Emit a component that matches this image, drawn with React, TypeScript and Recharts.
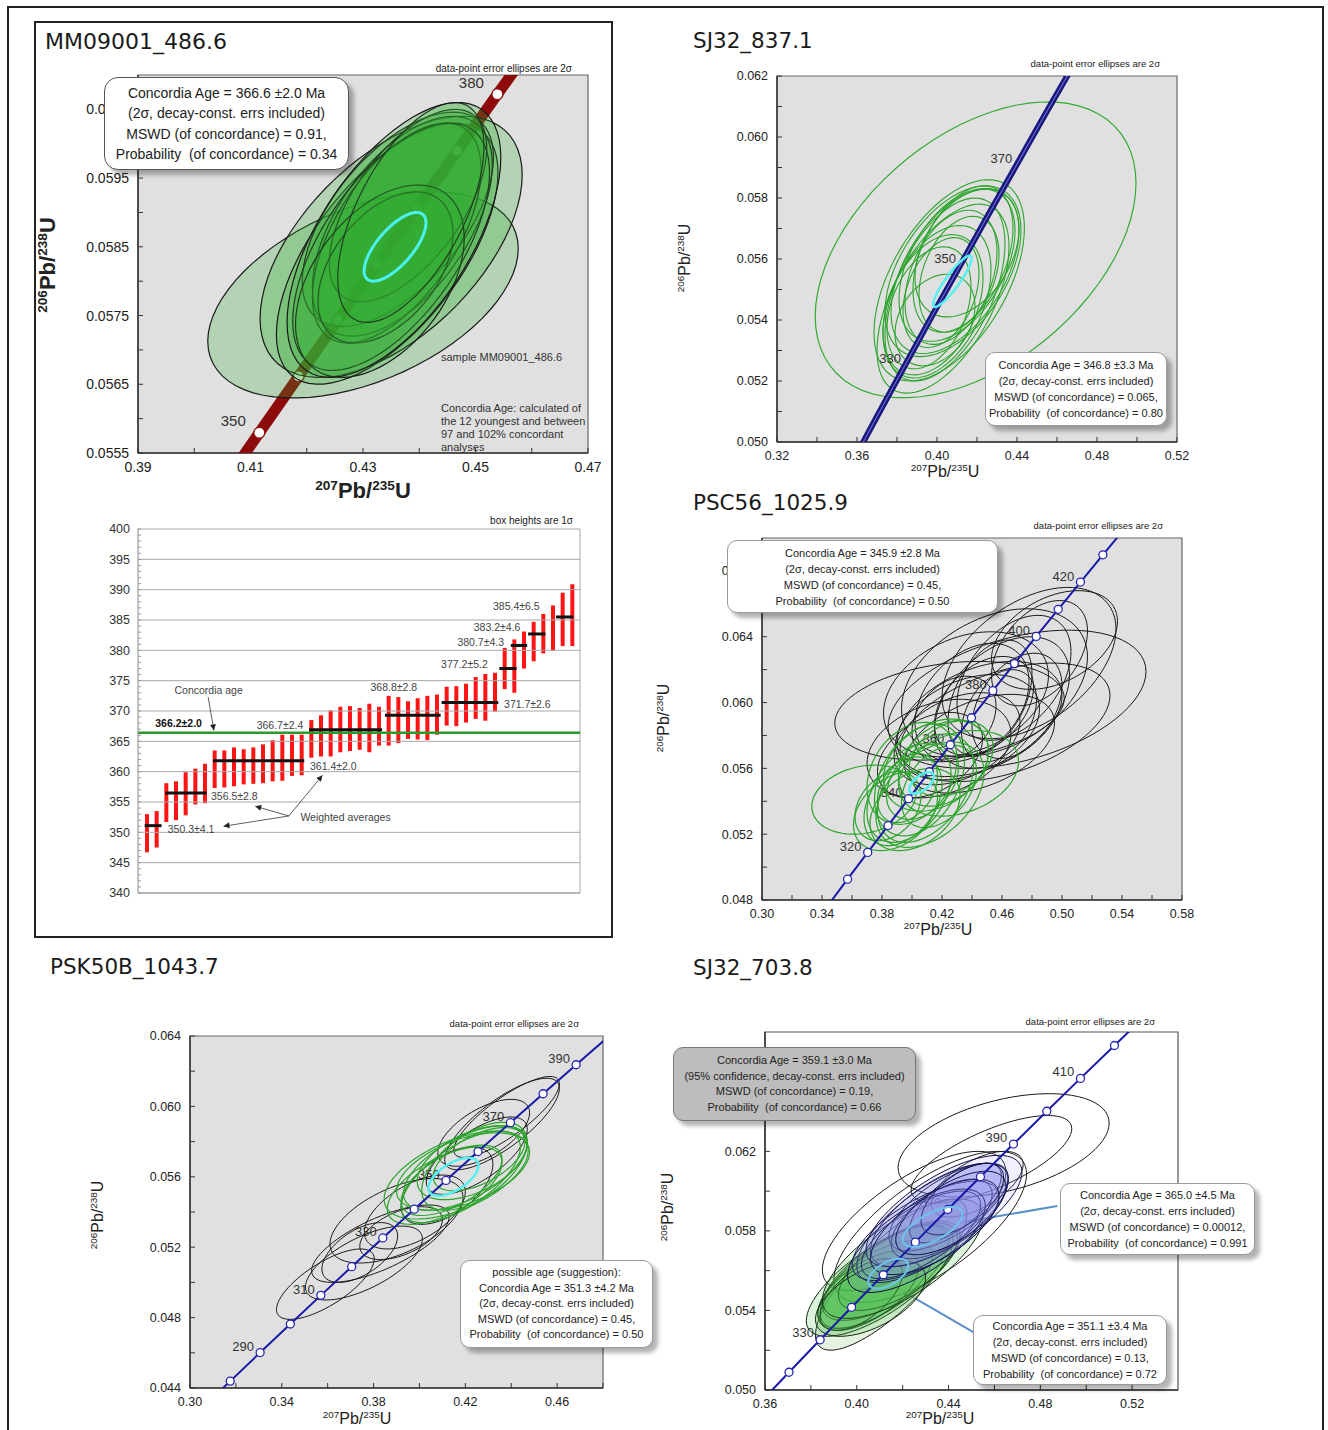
import React from 'react';
import { ScatterChart, ComposedChart, Scatter, Bar, XAxis, YAxis, ReferenceLine, ReferenceArea, CartesianGrid } from 'recharts';

const FONT = '"Liberation Sans", Arial, sans-serif';
const TITLE_FONT = '"DejaVu Sans", Verdana, sans-serif';

// U-Pb decay constants (per Ma) used to place the concordia curve
const LAMBDA_238 = 1.55125e-4;
const LAMBDA_235 = 9.8485e-4;

type Ell = [number, number, number, number, number]; // cx, cy, half-width x, half-height y, rho

// ---------------- Panel 1: MM09001_486.6 ----------------
const p1XMajor = [0.39, 0.41, 0.43, 0.45, 0.47];
const p1XMinor = [0.4, 0.42, 0.44, 0.46];
const p1YMajor = [0.0555, 0.0565, 0.0575, 0.0585, 0.0595, 0.0605];
const p1YMinor = [0.056, 0.057, 0.058, 0.059, 0.06];
const p1CurveAges = [340, 350, 360, 370, 380, 390];
const p1MarkerAges = [350, 355, 360, 365, 370, 375, 380];
const p1LabelAges = [350, 380];
const p1Ellipses: Ell[] = [
  [0.43, 0.0578, 0.0276, 0.0015, 0.45],
  [0.435, 0.0585, 0.0233, 0.0019, 0.55],
  [0.4343, 0.0584, 0.0197, 0.0019, 0.62],
  [0.4362, 0.0589, 0.017, 0.00156, 0.58],
  [0.437, 0.0588, 0.016, 0.0016, 0.56],
  [0.436, 0.0587, 0.015, 0.0016, 0.58],
  [0.438, 0.0591, 0.014, 0.0014, 0.6],
  [0.435, 0.0585, 0.0175, 0.0018, 0.6],
  [0.434, 0.0582, 0.012, 0.0011, 0.45],
  [0.433, 0.058, 0.015, 0.0014, 0.45],
  [0.4385, 0.059, 0.013, 0.0016, 0.6],
  [0.4355, 0.0586, 0.019, 0.002, 0.6],
];
const p1AgeEllipse: Ell = [0.4357, 0.0585, 0.0055, 0.0005, 0.7];

// ---------------- Panel 2: weighted averages ----------------
const barLow = [346.7, 347.5, 351.7, 352.0, 352.8, 354.6, 354.8, 357.3, 357.4, 357.6, 357.9, 358.0, 358.1, 358.4, 358.5, 359.3, 359.4, 362.3, 362.5, 362.5, 363.2, 363.4, 363.6, 363.2, 364.3, 364.3, 364.7, 365.4, 365.3, 365.2, 366.1, 367.6, 367.5, 368.1, 368.7, 368.4, 369.9, 373.6, 373.0, 377.0, 378.2, 379.5, 380.0, 380.7, 380.7];
const barHigh = [353.0, 353.5, 358.1, 358.4, 359.9, 360.5, 361.3, 363.5, 363.5, 364.0, 363.7, 364.0, 364.5, 365.2, 366.1, 366.1, 366.1, 368.5, 369.3, 370.1, 370.7, 370.8, 370.5, 371.2, 370.7, 372.5, 372.3, 371.6, 372.1, 372.5, 372.7, 374.0, 374.1, 374.5, 375.6, 376.1, 376.3, 380.4, 381.8, 383.1, 384.7, 386.0, 387.4, 389.5, 390.9];
const wavgStart = [0.69, 2.84, 7.8, 17.8, 25.7, 31.6, 37.6, 38.8, 40.6, 43.5];
const wavgEnd = [2.45, 7.13, 17.3, 25.4, 31.5, 37.5, 39.4, 40.5, 42.4, 45.3];
const wavgValue = [351.1, 356.5, 361.8, 366.9, 369.3, 371.4, 377.0, 380.8, 382.7, 385.5];
const concordiaAgeLine = 366.4;
const barYTicksMajor = [340, 345, 350, 355, 360, 365, 370, 375, 380, 385, 390, 395, 400];
const barYTicksAll = [340, 341, 342, 343, 344, 345, 346, 347, 348, 349, 350, 351, 352, 353, 354, 355, 356, 357, 358, 359, 360, 361, 362, 363, 364, 365, 366, 367, 368, 369, 370, 371, 372, 373, 374, 375, 376, 377, 378, 379, 380, 381, 382, 383, 384, 385, 386, 387, 388, 389, 390, 391, 392, 393, 394, 395, 396, 397, 398, 399, 400];
const barLabelText = ['350.3±4.1', '356.5±2.8', '361.4±2.0', '366.7±2.4', '368.8±2.8', '371.7±2.6', '377.2±5.2', '380.7±4.3', '383.2±4.6', '385.4±6.5', '366.2±2.0', 'Concordia age', 'Weighted averages'];
const barLabelX = [3.1, 7.6, 17.9, 17.2, 24.2, 38.1, 36.4, 38.1, 39.8, 41.8, 1.8, 3.8, 16.9];
const barLabelY = [350.6, 356.0, 361.0, 367.7, 373.9, 371.2, 377.7, 381.3, 383.9, 387.3, 368.1, 373.4, 352.6];
const barLabelAnchor = ['start', 'start', 'start', 'end', 'start', 'start', 'end', 'end', 'end', 'end', 'start', 'start', 'start'];
const barLabelBold = [false, false, false, false, false, false, false, false, false, false, true, false, false];
const arrowFromX = [7.3, 15.7, 15.7, 15.7];
const arrowFromY = [372.3, 352.7, 352.7, 352.7];
const arrowToX = [7.9, 12.2, 8.9, 19.2];
const arrowToY = [366.8, 354.3, 351.0, 359.4];

// ---------------- Panel 3: SJ32_837.1 ----------------
const p3XMajor = [0.32, 0.36, 0.4, 0.44, 0.48, 0.52];
const p3XMinor = [0.34, 0.38, 0.42, 0.46, 0.5];
const p3YMajor = [0.05, 0.052, 0.054, 0.056, 0.058, 0.06, 0.062];
const p3YMinor = [0.051, 0.053, 0.055, 0.057, 0.059, 0.061];
const p3CurveAges = [300, 320, 340, 360, 380, 400];
const p3LabelAges = [330, 350, 370];
const p3BigEllipse: Ell = [0.4193, 0.0563, 0.0802, 0.00485, 0.45];
const p3Ellipses: Ell[] = [
  [0.4061, 0.0553, 0.0376, 0.0033, 0.52],
  [0.408, 0.0556, 0.034, 0.0028, 0.48],
  [0.404, 0.055, 0.03, 0.003, 0.5],
  [0.41, 0.0558, 0.029, 0.0025, 0.45],
  [0.4, 0.0546, 0.027, 0.0025, 0.42],
  [0.407, 0.0554, 0.023, 0.0022, 0.38],
  [0.398, 0.0545, 0.025, 0.0023, 0.38],
  [0.413, 0.056, 0.025, 0.0024, 0.42],
  [0.402, 0.0549, 0.019, 0.0018, 0.35],
  [0.409, 0.0556, 0.032, 0.0027, 0.5],
  [0.403, 0.0547, 0.033, 0.0031, 0.55],
  [0.415, 0.0562, 0.026, 0.0021, 0.38],
  [0.396, 0.0544, 0.021, 0.002, 0.35],
  [0.411, 0.0555, 0.02, 0.0019, 0.35],
  [0.399, 0.054, 0.02, 0.0015, 0.3],
];
const p3AgeEllipse: Ell = [0.4077, 0.05527, 0.0096, 0.00084, 0.9];

// ---------------- Panel 4: PSC56_1025.9 ----------------
const p4XMajor = [0.3, 0.34, 0.38, 0.42, 0.46, 0.5, 0.54, 0.58];
const p4XMinor = [0.32, 0.36, 0.4, 0.44, 0.48, 0.52, 0.56];
const p4YMajor = [0.048, 0.052, 0.056, 0.06, 0.064, 0.068];
const p4YMinor = [0.05, 0.054, 0.058, 0.062, 0.066];
const p4CurveAges = [300, 310, 320, 330, 340, 350, 360, 370, 380, 390, 400, 410, 420, 430, 440];
const p4MarkerAges = [310, 320, 330, 340, 350, 360, 370, 380, 390, 400, 410, 420, 430];
const p4LabelAges = [320, 340, 360, 380, 400, 420];
const p4Black: Ell[] = [
  [0.425, 0.0595, 0.0765, 0.003, 0.25],
  [0.47, 0.0602, 0.086, 0.0042, 0.4],
  [0.478, 0.0624, 0.058, 0.0046, 0.45],
  [0.455, 0.0612, 0.062, 0.0045, 0.35],
  [0.445, 0.059, 0.055, 0.0035, 0.4],
  [0.46, 0.06, 0.045, 0.004, 0.42],
  [0.437, 0.0585, 0.048, 0.0032, 0.35],
  [0.468, 0.0615, 0.038, 0.0038, 0.42],
  [0.448, 0.0598, 0.033, 0.003, 0.38],
  [0.43, 0.0578, 0.042, 0.0028, 0.38],
  [0.452, 0.0603, 0.028, 0.0035, 0.42],
  [0.418, 0.0572, 0.048, 0.003, 0.3],
  [0.458, 0.0592, 0.025, 0.0028, 0.35],
  [0.44, 0.06, 0.038, 0.0036, 0.35],
  [0.485, 0.063, 0.032, 0.0032, 0.42],
  [0.412, 0.0568, 0.035, 0.0026, 0.38],
  [0.445, 0.0575, 0.05, 0.003, 0.42],
  [0.495, 0.0638, 0.042, 0.003, 0.38],
  [0.462, 0.0588, 0.07, 0.0036, 0.45],
  [0.428, 0.059, 0.028, 0.0026, 0.3],
  [0.47, 0.0598, 0.03, 0.0032, 0.38],
  [0.436, 0.0605, 0.055, 0.0038, 0.3],
];
const p4Green: Ell[] = [
  [0.368, 0.0541, 0.0348, 0.0021, 0.2],
  [0.431, 0.0557, 0.04, 0.0026, 0.28],
  [0.405, 0.0553, 0.03, 0.0034, 0.35],
  [0.398, 0.0545, 0.028, 0.003, 0.38],
  [0.416, 0.0562, 0.035, 0.0028, 0.3],
  [0.394, 0.054, 0.026, 0.0027, 0.38],
  [0.409, 0.0548, 0.032, 0.0033, 0.42],
  [0.421, 0.0563, 0.03, 0.0026, 0.3],
  [0.389, 0.0534, 0.028, 0.0024, 0.35],
  [0.407, 0.0552, 0.024, 0.0023, 0.38],
  [0.4, 0.0557, 0.03, 0.0031, 0.28],
  [0.418, 0.0549, 0.025, 0.0025, 0.38],
  [0.384, 0.0537, 0.022, 0.0021, 0.3],
  [0.412, 0.0544, 0.036, 0.0032, 0.42],
  [0.397, 0.0548, 0.02, 0.0021, 0.35],
  [0.426, 0.0566, 0.028, 0.0023, 0.3],
  [0.402, 0.0535, 0.03, 0.0025, 0.35],
];
const p4AgeEllipse: Ell = [0.4064, 0.05512, 0.0082, 0.00065, 0.6];

// ---------------- Panel 5: PSK50B_1043.7 ----------------
const p5XMajor = [0.3, 0.34, 0.38, 0.42, 0.46];
const p5XMinor = [0.32, 0.36, 0.4, 0.44, 0.48];
const p5YMajor = [0.044, 0.048, 0.052, 0.056, 0.06, 0.064];
const p5YMinor = [0.046, 0.05, 0.054, 0.058, 0.062];
const p5CurveAges = [270, 280, 290, 300, 310, 320, 330, 340, 350, 360, 370, 380, 390, 400];
const p5MarkerAges = [280, 290, 300, 310, 320, 330, 340, 350, 360, 370, 380, 390];
const p5LabelAges = [290, 310, 330, 350, 370, 390];
const p5Black: Ell[] = [
  [0.359, 0.0499, 0.0213, 0.002, 0.72],
  [0.3758, 0.0511, 0.0255, 0.0021, 0.65],
  [0.374, 0.0517, 0.0165, 0.0017, 0.55],
  [0.383, 0.0522, 0.03, 0.0022, 0.7],
  [0.39, 0.0535, 0.029, 0.0024, 0.55],
  [0.392, 0.0528, 0.018, 0.0015, 0.5],
  [0.398, 0.054, 0.022, 0.0021, 0.55],
  [0.412, 0.0555, 0.02, 0.0022, 0.55],
  [0.438, 0.0594, 0.023, 0.0023, 0.82],
  [0.436, 0.059, 0.025, 0.0026, 0.78],
  [0.428, 0.0585, 0.02, 0.0019, 0.6],
  [0.425, 0.0572, 0.022, 0.0022, 0.68],
];
const p5Green: Ell[] = [
  [0.416, 0.0561, 0.0314, 0.0025, 0.55],
  [0.42, 0.0565, 0.027, 0.0024, 0.6],
  [0.414, 0.0558, 0.022, 0.002, 0.6],
  [0.423, 0.0568, 0.024, 0.0021, 0.5],
  [0.418, 0.056, 0.026, 0.0026, 0.65],
  [0.426, 0.057, 0.02, 0.0018, 0.55],
  [0.411, 0.0555, 0.025, 0.0022, 0.6],
  [0.424, 0.0566, 0.023, 0.0025, 0.55],
  [0.419, 0.0563, 0.029, 0.0022, 0.5],
];
const p5AgeEllipse: Ell = [0.4148, 0.056, 0.0109, 0.00108, 0.6];

// ---------------- Panel 6: SJ32_703.8 ----------------
const p6XMajor = [0.36, 0.4, 0.44, 0.48, 0.52];
const p6XMinor = [0.38, 0.42, 0.46, 0.5];
const p6YMajor = [0.05, 0.054, 0.058, 0.062];
const p6YMinor = [0.052, 0.056, 0.06, 0.064, 0.066];
const p6CurveAges = [310, 320, 330, 340, 350, 360, 370, 380, 390, 400, 410, 420, 430, 440];
const p6MarkerAges = [320, 330, 340, 350, 360, 370, 380, 390, 400, 410, 420];
const p6LabelAges = [330, 350, 370, 390, 410];
const p6Outline: Ell[] = [
  [0.464, 0.0623, 0.046, 0.0026, 0.43],
  [0.4587, 0.0616, 0.035, 0.0022, 0.7],
  [0.4525, 0.06035, 0.02, 0.00165, 0.6],
  [0.425, 0.0585, 0.04, 0.0035, 0.7],
  [0.432, 0.0582, 0.042, 0.0038, 0.7],
];
const p6Pale: Ell[] = [[0.415, 0.0558, 0.033, 0.0038, 0.8]];
const p6Green: Ell[] = [
  [0.412, 0.0557, 0.028, 0.0026, 0.7],
  [0.408, 0.0553, 0.025, 0.0022, 0.65],
  [0.415, 0.056, 0.03, 0.0025, 0.7],
  [0.405, 0.055, 0.022, 0.002, 0.6],
  [0.41, 0.0555, 0.032, 0.0028, 0.72],
  [0.418, 0.0562, 0.026, 0.0022, 0.65],
  [0.402, 0.0548, 0.018, 0.0018, 0.6],
  [0.42, 0.0566, 0.035, 0.003, 0.7],
  [0.406, 0.0546, 0.024, 0.0019, 0.55],
];
const p6Blue: Ell[] = [
  [0.433, 0.0584, 0.033, 0.003, 0.72],
  [0.436, 0.0588, 0.03, 0.0026, 0.68],
  [0.44, 0.0592, 0.026, 0.0022, 0.68],
  [0.43, 0.058, 0.032, 0.0025, 0.68],
  [0.437, 0.0586, 0.022, 0.002, 0.62],
  [0.443, 0.0594, 0.02, 0.002, 0.68],
  [0.428, 0.0578, 0.026, 0.0022, 0.68],
  [0.438, 0.059, 0.034, 0.0028, 0.7],
  [0.426, 0.0575, 0.03, 0.0026, 0.68],
  [0.446, 0.0596, 0.018, 0.0018, 0.6],
  [0.434, 0.0582, 0.028, 0.0024, 0.66],
  [0.441, 0.0589, 0.024, 0.0021, 0.64],
];
const p6AgeEllipses: Ell[] = [
  [0.433, 0.0582, 0.013, 0.001, 0.65],
  [0.4137, 0.05585, 0.0087, 0.00075, 0.55],
];
const p6ConnectorFrom = [[0.4874, 0.05925], [0.4538, 0.05271]];
const p6ConnectorTo = [[0.445, 0.05841], [0.4149, 0.05531]];

// ---------------- helpers ----------------
const ML = 80, MT = 12, MR = 30, MB = 40;

const concordiaPoint = (age: number) => ({ x: Math.expm1(LAMBDA_235 * age), y: Math.expm1(LAMBDA_238 * age), age });

function ellipsePoints(e: Ell) {
  const [cx, cy, sx, sy, r] = e;
  const q = Math.sqrt(1 - r * r);
  const pts: { x: number; y: number }[] = [];
  const n = 72;
  for (let k = 0; k <= n; k++) {
    const t = (2 * Math.PI * k) / n;
    pts.push({ x: cx + sx * Math.cos(t), y: cy + sy * (r * Math.cos(t) + q * Math.sin(t)) });
  }
  return pts;
}

const noShape = () => <g />;

function ellipseSeries(list: Ell[], key: string, stroke: string, strokeWidth: number, fill = 'none', fillOpacity = 0) {
  return list.map((e, k) => (
    <Scatter
      key={`${key}-${k}`}
      data={ellipsePoints(e)}
      shape={noShape}
      isAnimationActive={false}
      line={{ stroke, strokeWidth, fill, fillOpacity }}
    />
  ));
}

function curveSeries(ages: number[], key: string, stroke: string, width: number) {
  return (
    <Scatter key={key} data={ages.map(concordiaPoint)} shape={noShape} isAnimationActive={false}
      line={{ stroke, strokeWidth: width, fill: 'none' }} />
  );
}

function markerSeries(ages: number[], key: string, stroke: string, r: number) {
  return (
    <Scatter key={key} data={ages.map(concordiaPoint)} isAnimationActive={false}
      shape={(p: any) => <circle cx={p.cx} cy={p.cy} r={r} fill="#ffffff" stroke={stroke} strokeWidth={1.3} />} />
  );
}

function ageLabelSeries(ages: number[], key: string, dx: number, dy: number, size: number) {
  return (
    <Scatter key={key} data={ages.map(concordiaPoint)} isAnimationActive={false}
      shape={(p: any) => (
        <text x={p.cx + dx} y={p.cy + dy} textAnchor="middle" dominantBaseline="central" fontSize={size} fill="#333" fontFamily={FONT}>
          {p.payload ? p.payload.age : p.age}
        </text>
      )} />
  );
}

const isMajor = (major: number[], v: number) => major.some((m) => Math.abs(m - v) < 1e-9);
const fmt = (major: number[], dec: number) => (v: number) => (isMajor(major, v) ? v.toFixed(dec) : '');
const allTicks = (a: number[], b: number[]) => [...a, ...b].sort((x, y) => x - y);

function xAxisEl(domain: [number, number], major: number[], minor: number[], dec: number, size: number) {
  return (
    <XAxis type="number" dataKey="x" domain={domain} allowDataOverflow ticks={allTicks(major, minor)} interval={0}
      tickFormatter={fmt(major, dec)} tickSize={-5} tickMargin={14} height={MB}
      axisLine={{ stroke: '#333', strokeWidth: 1.5 }} tickLine={{ stroke: '#333' }}
      tick={{ fontSize: size, fill: '#222', fontFamily: FONT }} />
  );
}

function yAxisEl(domain: [number, number], major: number[], minor: number[], dec: number, size: number) {
  return (
    <YAxis type="number" dataKey="y" domain={domain} allowDataOverflow ticks={allTicks(major, minor)} interval={0}
      tickFormatter={fmt(major, dec)} tickSize={-5} tickMargin={14} width={ML}
      axisLine={{ stroke: '#333', strokeWidth: 1.5 }} tickLine={{ stroke: '#333' }}
      tick={{ fontSize: size, fill: '#222', fontFamily: FONT }} />
  );
}

function Txt({ x, y, children, size = 12, align = 'left', bold = false, family = FONT, color = '#222', rotate = false, lh = 1.15 }: any) {
  const tx = align === 'left' ? '0' : align === 'right' ? '-100%' : '-50%';
  return (
    <div style={{ position: 'absolute', left: x, top: y, transform: `translate(${tx}, -50%)${rotate ? ' rotate(-90deg)' : ''}`,
      fontFamily: family, fontSize: size, fontWeight: bold ? 'bold' : 'normal', color, whiteSpace: 'pre', lineHeight: lh }}>
      {children}
    </div>
  );
}

const Sup = ({ children }: any) => (
  <span style={{ fontSize: '0.62em', position: 'relative', top: '-0.6em' }}>{children}</span>
);

function InfoBox({ x, y, w, h, lines, size, lh, bg = '#ffffff', border = '#9a9a9a', radius = 10 }: any) {
  return (
    <div style={{ position: 'absolute', left: x, top: y, width: w, height: h, boxSizing: 'border-box', background: bg,
      border: `1px solid ${border}`, borderRadius: radius, boxShadow: '5px 5px 4px rgba(0,0,0,0.3)', display: 'flex',
      flexDirection: 'column', justifyContent: 'center', alignItems: 'center', fontFamily: FONT, fontSize: size,
      lineHeight: `${lh}px`, color: '#222', whiteSpace: 'pre' }}>
      {lines.map((s: string, k: number) => <div key={k}>{s}</div>)}
    </div>
  );
}

function chartBox(rect: number[]) {
  const [l, t, r, b] = rect;
  return {
    style: { position: 'absolute' as const, left: l - ML, top: t - MT },
    width: r - l + ML + MR,
    height: b - t + MT + MB,
    margin: { top: MT, right: MR, left: 0, bottom: 0 },
  };
}

const PLOT_BG = '#e0e0e0';

// ---------------- panels ----------------
const P1 = [138, 75, 588, 453];
const P2 = [138, 529, 580, 893];
const P3 = [777, 76, 1177, 442];
const P4 = [762, 538, 1182, 900];
const P5 = [190, 1036, 603, 1388];
const P6 = [765, 1032, 1178, 1390];

function Panel1() {
  const c = chartBox(P1);
  const xd: [number, number] = [0.39, 0.47];
  const yd: [number, number] = [0.0555, 0.061];
  return (
    <div style={c.style}>
      <ScatterChart width={c.width} height={c.height} margin={c.margin}>
        <CartesianGrid fill={PLOT_BG} horizontal={false} vertical={false} stroke="none" />
        {xAxisEl(xd, p1XMajor, p1XMinor, 2, 14)}
        {yAxisEl(yd, p1YMajor, p1YMinor, 4, 14)}
        {curveSeries(p1CurveAges, 'c1', '#8e0b0b', 11)}
        {markerSeries(p1MarkerAges, 'm1', '#8e0b0b', 5.5)}
        {ellipseSeries(p1Ellipses, 'e1', '#1a1a1a', 1.2, '#2eaa2e', 0.25)}
        {ellipseSeries([p1AgeEllipse], 'a1', '#4df0f0', 3)}
        {ageLabelSeries(p1LabelAges, 'l1', -26, -12, 15)}
        <ReferenceArea x1={xd[0]} x2={xd[1]} y1={yd[0]} y2={yd[1]} fill="none" fillOpacity={0} stroke="#666" strokeWidth={1.2} />
      </ScatterChart>
    </div>
  );
}

function Panel2() {
  const c = chartBox(P2);
  const rows = barLow.map((lo, k) => ({ i: k + 1, range: [lo, barHigh[k]] }));
  const labels = barLabelText.map((text, k) => ({ i: barLabelX[k], v: barLabelY[k], text, anchor: barLabelAnchor[k], bold: barLabelBold[k] }));
  return (
    <div style={c.style}>
      <ComposedChart width={c.width} height={c.height} margin={c.margin} data={rows}>
        <XAxis xAxisId="cat" type="category" dataKey="i" hide padding={{ left: 4, right: 3 }} />
        <XAxis type="number" dataKey="i" domain={[0, 46]} allowDataOverflow ticks={[]} tick={false} tickLine={false} height={MB} axisLine={{ stroke: '#999' }} />
        <YAxis type="number" domain={[340, 400]} allowDataOverflow ticks={barYTicksAll} interval={0} tickFormatter={fmt(barYTicksMajor, 0)}
          tickSize={-3} tickMargin={11} width={ML} axisLine={{ stroke: '#888' }} tickLine={{ stroke: '#999' }}
          tick={{ fontSize: 12.5, fill: '#333', fontFamily: FONT }} />
        {barYTicksMajor.map((v) => <ReferenceLine key={`g${v}`} y={v} stroke="#a8a8a8" strokeWidth={1} />)}
        <ReferenceLine x={46} stroke="#a8a8a8" />
        <Bar xAxisId="cat" dataKey="range" barSize={4} fill="#ff1414" isAnimationActive={false} />
        <ReferenceLine y={concordiaAgeLine} stroke="#2a9a2a" strokeWidth={2.5} />
        {wavgValue.map((v, k) => (
          <ReferenceLine key={`w${k}`} segment={[{ x: wavgStart[k], y: v }, { x: wavgEnd[k], y: v }]} stroke="#111" strokeWidth={3} />
        ))}
        {arrowFromX.map((x, k) => (
          <ReferenceLine key={`ar${k}`} segment={[{ x, y: arrowFromY[k] }, { x: arrowToX[k], y: arrowToY[k] }]} stroke="#333" strokeWidth={0.8} markerEnd="url(#arrowHead)" />
        ))}
        <Scatter data={labels} dataKey="v" isAnimationActive={false}
          shape={(p: any) => {
            const d = p.payload || p;
            return (
              <text x={p.cx} y={p.cy} textAnchor={d.anchor} dominantBaseline="central" fontSize={10.5}
                fontWeight={d.bold ? 'bold' : 'normal'} fill={d.bold ? '#111' : '#444'} fontFamily={FONT}>{d.text}</text>
            );
          }} />
      </ComposedChart>
    </div>
  );
}

function Panel3() {
  const c = chartBox(P3);
  const xd: [number, number] = [0.32, 0.52];
  const yd: [number, number] = [0.05, 0.062];
  return (
    <div style={c.style}>
      <ScatterChart width={c.width} height={c.height} margin={c.margin}>
        <CartesianGrid fill={PLOT_BG} horizontal={false} vertical={false} stroke="none" />
        {xAxisEl(xd, p3XMajor, p3XMinor, 2, 12.5)}
        {yAxisEl(yd, p3YMajor, p3YMinor, 3, 12.5)}
        {ellipseSeries([p3BigEllipse], 'b3', '#33aa33', 1.2)}
        {ellipseSeries(p3Ellipses, 'e3', '#2ca42c', 1.1)}
        {curveSeries(p3CurveAges, 'c3', '#17177e', 6)}
        {curveSeries(p3CurveAges, 'c3b', '#6a6ac8', 1.2)}
        {ellipseSeries([p3AgeEllipse], 'a3', '#55f0f0', 2.5)}
        {ageLabelSeries(p3LabelAges, 'l3', -15, -7, 13)}
        <ReferenceArea x1={xd[0]} x2={xd[1]} y1={yd[0]} y2={yd[1]} fill="none" fillOpacity={0} stroke="#666" strokeWidth={1.2} />
      </ScatterChart>
    </div>
  );
}

function Panel4() {
  const c = chartBox(P4);
  const xd: [number, number] = [0.3, 0.58];
  const yd: [number, number] = [0.048, 0.07];
  return (
    <div style={c.style}>
      <ScatterChart width={c.width} height={c.height} margin={c.margin}>
        <CartesianGrid fill={PLOT_BG} horizontal={false} vertical={false} stroke="none" />
        {xAxisEl(xd, p4XMajor, p4XMinor, 2, 12.5)}
        {yAxisEl(yd, p4YMajor, p4YMinor, 3, 12.5)}
        {ageLabelSeries(p4LabelAges, 'l4', -17, -6, 13)}
        {ellipseSeries(p4Black, 'k4', '#1a1a1a', 1)}
        {ellipseSeries(p4Green, 'g4', '#2ca42c', 1.2)}
        {curveSeries(p4CurveAges, 'c4', '#1a1aa8', 2)}
        {markerSeries(p4MarkerAges, 'm4', '#2626b0', 4)}
        {ellipseSeries([p4AgeEllipse], 'a4', '#55f0f0', 2.5)}
        <ReferenceArea x1={xd[0]} x2={xd[1]} y1={yd[0]} y2={yd[1]} fill="none" fillOpacity={0} stroke="#666" strokeWidth={1.2} />
      </ScatterChart>
    </div>
  );
}

function Panel5() {
  const c = chartBox(P5);
  const xd: [number, number] = [0.3, 0.48];
  const yd: [number, number] = [0.044, 0.064];
  return (
    <div style={c.style}>
      <ScatterChart width={c.width} height={c.height} margin={c.margin}>
        <CartesianGrid fill={PLOT_BG} horizontal={false} vertical={false} stroke="none" />
        {xAxisEl(xd, p5XMajor, p5XMinor, 2, 12.5)}
        {yAxisEl(yd, p5YMajor, p5YMinor, 3, 12.5)}
        {ageLabelSeries(p5LabelAges, 'l5', -17, -6, 13)}
        {ellipseSeries(p5Black, 'k5', '#1a1a1a', 1)}
        {ellipseSeries(p5Green, 'g5', '#2ca42c', 1.2)}
        {curveSeries(p5CurveAges, 'c5', '#1a1aa8', 2)}
        {markerSeries(p5MarkerAges, 'm5', '#2626b0', 4)}
        {ellipseSeries([p5AgeEllipse], 'a5', '#55f0f0', 2.5)}
        <ReferenceArea x1={xd[0]} x2={xd[1]} y1={yd[0]} y2={yd[1]} fill="none" fillOpacity={0} stroke="#666" strokeWidth={1.2} />
      </ScatterChart>
    </div>
  );
}

function Panel6() {
  const c = chartBox(P6);
  const xd: [number, number] = [0.36, 0.54];
  const yd: [number, number] = [0.05, 0.068];
  return (
    <div style={c.style}>
      <ScatterChart width={c.width} height={c.height} margin={c.margin}>
        <CartesianGrid fill="#ffffff" horizontal={false} vertical={false} stroke="none" />
        {xAxisEl(xd, p6XMajor, p6XMinor, 2, 12.5)}
        {yAxisEl(yd, p6YMajor, p6YMinor, 3, 12.5)}
        {ageLabelSeries(p6LabelAges, 'l6', -17, -7, 13)}
        {ellipseSeries(p6Pale, 'p6', '#1a1a1a', 1, '#d8ecd2', 0.7)}
        {ellipseSeries(p6Outline, 'o6', '#1a1a1a', 1)}
        {ellipseSeries(p6Green, 'g6', '#102810', 1, '#4cbf4c', 0.2)}
        {ellipseSeries(p6Blue, 'b6', '#10104a', 1, '#8a8af0', 0.12)}
        {curveSeries(p6CurveAges, 'c6', '#1a1aa8', 2)}
        {markerSeries(p6MarkerAges, 'm6', '#2626b0', 4)}
        {ellipseSeries(p6AgeEllipses, 'a6', '#6cc4ec', 2)}
        {p6ConnectorFrom.map((f, k) => (
          <ReferenceLine key={`cn${k}`} segment={[{ x: f[0], y: f[1] }, { x: p6ConnectorTo[k][0], y: p6ConnectorTo[k][1] }]} stroke="#5b8fc9" strokeWidth={2} />
        ))}
        <ReferenceArea x1={xd[0]} x2={xd[1]} y1={yd[0]} y2={yd[1]} fill="none" fillOpacity={0} stroke="#555" strokeWidth={1.2} />
      </ScatterChart>
    </div>
  );
}

const ellipseNote = 'data-point error ellipses are 2σ';

export default function App() {
  return (
    <div style={{ position: 'absolute', left: 0, top: 0, width: 1328, height: 1430, background: '#ffffff', overflow: 'hidden', fontFamily: FONT }}>
      <svg width={0} height={0} style={{ position: 'absolute' }}>
        <defs>
          <marker id="arrowHead" viewBox="0 0 10 10" refX={10} refY={5} markerWidth={7} markerHeight={6} markerUnits="userSpaceOnUse" orient="auto">
            <path d="M0,0 L10,5 L0,10 z" fill="#222" />
          </marker>
        </defs>
      </svg>
      {/* outer frame */}
      <div style={{ position: 'absolute', left: 7, top: 6, width: 1317, height: 1440, border: '2px solid #222', boxSizing: 'border-box' }} />
      {/* left block frame */}
      <div style={{ position: 'absolute', left: 34, top: 21, width: 579, height: 917, border: '2px solid #222', boxSizing: 'border-box' }} />

      {/* Panel 1 */}
      <Panel1 />
      <Txt x={45} y={42} size={22} family={TITLE_FONT} color="#1a1a1a">MM09001_486.6</Txt>
      <Txt x={572} y={69} size={10} align="right">{ellipseNote}</Txt>
      <Txt x={48} y={265} size={22} bold align="center" rotate><Sup>206</Sup>Pb/<Sup>238</Sup>U</Txt>
      <Txt x={363} y={491} size={22} bold align="center"><Sup>207</Sup>Pb/<Sup>235</Sup>U</Txt>
      <Txt x={441} y={357} size={11} color="#333">sample MM09001_486.6</Txt>
      <Txt x={441} y={428} size={11} color="#333" lh={1.18}>{'Concordia Age: calculated of\nthe 12 youngest and between\n97 and 102% concordant\nanalyses'}</Txt>
      <InfoBox x={104} y={77} w={245} h={93} size={14} lh={20.5} border="#555" radius={14}
        lines={['Concordia Age = 366.6 ±2.0 Ma', '(2σ, decay-const. errs included)', 'MSWD (of concordance) = 0.91,', 'Probability  (of concordance) = 0.34']} />

      {/* Panel 2 */}
      <Panel2 />
      <Txt x={573} y={521} size={10} align="right">box heights are 1σ</Txt>

      {/* Panel 3 */}
      <Panel3 />
      <Txt x={693} y={41} size={21.5} family={TITLE_FONT} color="#1a1a1a">SJ32_837.1</Txt>
      <Txt x={1160} y={64} size={9.5} align="right">{ellipseNote}</Txt>
      <Txt x={685} y={258} size={16} align="center" rotate><Sup>206</Sup>Pb/<Sup>238</Sup>U</Txt>
      <Txt x={945} y={472} size={16} align="center"><Sup>207</Sup>Pb/<Sup>235</Sup>U</Txt>
      <InfoBox x={985} y={352} w={182} h={74} size={11} lh={16}
        lines={['Concordia Age = 346.8 ±3.3 Ma', '(2σ, decay-const. errs included)', 'MSWD (of concordance) = 0.065,', 'Probability  (of concordance) = 0.80']} />

      {/* Panel 4 */}
      <Panel4 />
      <Txt x={693} y={503} size={21.5} family={TITLE_FONT} color="#1a1a1a">PSC56_1025.9</Txt>
      <Txt x={1163} y={526} size={9.5} align="right">{ellipseNote}</Txt>
      <Txt x={664} y={718} size={16} align="center" rotate><Sup>206</Sup>Pb/<Sup>238</Sup>U</Txt>
      <Txt x={938} y={930} size={16} align="center"><Sup>207</Sup>Pb/<Sup>235</Sup>U</Txt>
      <InfoBox x={727} y={540} w={271} h={73} size={11} lh={16}
        lines={['Concordia Age = 345.9 ±2.8 Ma', '(2σ, decay-const. errs included)', 'MSWD (of concordance) = 0.45,', 'Probability  (of concordance) = 0.50']} />

      {/* Panel 5 */}
      <Panel5 />
      <Txt x={50} y={967} size={21.5} family={TITLE_FONT} color="#1a1a1a">PSK50B_1043.7</Txt>
      <Txt x={579} y={1024} size={9.5} align="right">{ellipseNote}</Txt>
      <Txt x={98} y={1215} size={16} align="center" rotate><Sup>206</Sup>Pb/<Sup>238</Sup>U</Txt>
      <Txt x={357} y={1419} size={16} align="center"><Sup>207</Sup>Pb/<Sup>235</Sup>U</Txt>
      <InfoBox x={460} y={1260} w={193} h={88} size={11} lh={15.5}
        lines={['possible age (suggestion):', 'Concordia Age = 351.3 ±4.2 Ma', '(2σ, decay-const. errs included)', 'MSWD (of concordance) = 0.45,', 'Probability  (of concordance) = 0.50']} />

      {/* Panel 6 */}
      <Panel6 />
      <Txt x={693} y={968} size={21.5} family={TITLE_FONT} color="#1a1a1a">SJ32_703.8</Txt>
      <Txt x={1155} y={1022} size={9.5} align="right">{ellipseNote}</Txt>
      <Txt x={668} y={1207} size={16} align="center" rotate><Sup>206</Sup>Pb/<Sup>238</Sup>U</Txt>
      <Txt x={940} y={1419} size={16} align="center"><Sup>207</Sup>Pb/<Sup>235</Sup>U</Txt>
      <InfoBox x={673} y={1047} w={243} h={74} size={11} lh={15.5} bg="#bdbdbd" border="#777"
        lines={['Concordia Age = 359.1 ±3.0 Ma', '(95% confidence, decay-const. errs included)', 'MSWD (of concordance) = 0.19,', 'Probability  (of concordance) = 0.66']} />
      <InfoBox x={1060} y={1183} w={195} h={72} size={11} lh={16}
        lines={['Concordia Age = 365.0 ±4.5 Ma', '(2σ, decay-const. errs included)', 'MSWD (of concordance) = 0.00012,', 'Probability  (of concordance) = 0.991']} />
      <InfoBox x={973} y={1315} w={194} h={70} size={11} lh={16}
        lines={['Concordia Age = 351.1 ±3.4 Ma', '(2σ, decay-const. errs included)', 'MSWD (of concordance) = 0.13,', 'Probability  (of concordance) = 0.72']} />
    </div>
  );
}
